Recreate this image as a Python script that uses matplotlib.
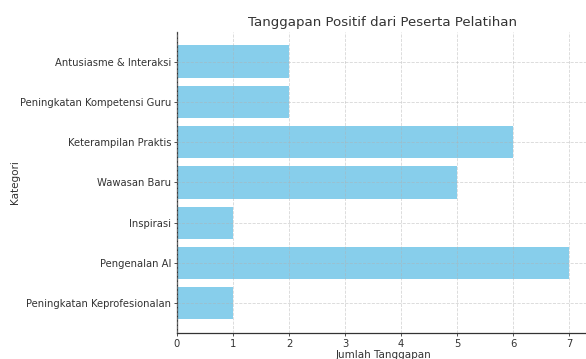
import matplotlib
matplotlib.use("Agg")
from matplotlib import pyplot as plt

categories = [
    "Peningkatan Keprofesionalan",
    "Pengenalan AI",
    "Inspirasi",
    "Wawasan Baru",
    "Keterampilan Praktis",
    "Peningkatan Kompetensi Guru",
    "Antusiasme & Interaksi",
]
counts = [1, 7, 1, 5, 6, 2, 2]
xticks = [0, 1, 2, 3, 4, 5, 6, 7]

text_color = "#333333"

fig = plt.figure(figsize=(5.86, 3.59), dpi=100)
ax = fig.add_axes([0.302, 0.0724, 0.703, 0.839])

ax.barh(categories, counts, color="#87CEEB")

# grid on top of the bars, faint dashed
ax.set_axisbelow(False)
ax.grid(True, linestyle="--", color="#b0b0b0", alpha=0.5, linewidth=0.6)

for side in ("top", "right"):
    ax.spines[side].set_visible(False)
for side in ("left", "bottom"):
    ax.spines[side].set_color(text_color)
    ax.spines[side].set_linewidth(0.9)

ax.set_xticks(xticks)
ax.tick_params(colors=text_color, labelsize=7.2, length=2.2, width=0.6, pad=2)

ax.set_title("Tanggapan Positif dari Peserta Pelatihan", color=text_color, fontsize=9.6, pad=4)
ax.set_xlabel("Jumlah Tanggapan", color=text_color, fontsize=7.5, labelpad=1)
ax.set_ylabel("Kategori", color=text_color, fontsize=7.5)
ax.yaxis.set_label_coords(-0.38, 0.5)

fig.savefig("out.png", dpi=100)
